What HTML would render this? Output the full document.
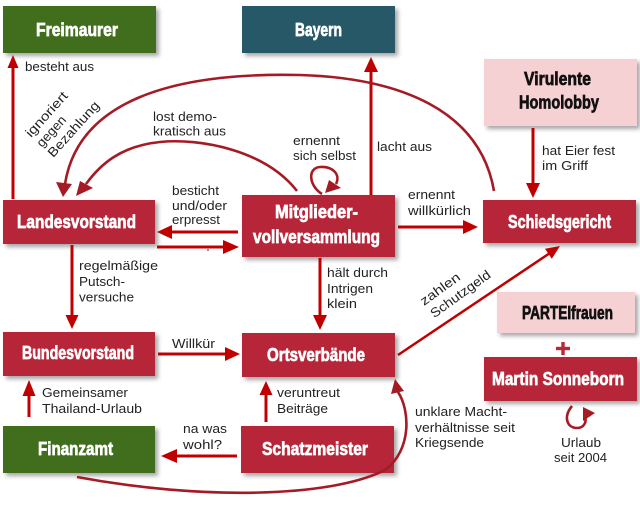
<!DOCTYPE html>
<html><head><meta charset="utf-8"><style>
html,body{margin:0;padding:0;background:#fff;}
svg{display:block;}
.b{font-family:"Liberation Sans",sans-serif;font-weight:bold;font-size:18px;fill:#fff;stroke:#fff;stroke-width:0.7px;}
.bk{fill:#111;stroke:#111;}
.l{font-family:"Liberation Sans",sans-serif;font-size:13px;fill:#222;}
</style></head><body>
<svg width="640" height="509" viewBox="0 0 640 509" xmlns="http://www.w3.org/2000/svg">
<defs>
<filter id="s" x="-10%" y="-10%" width="130%" height="140%">
<feDropShadow dx="3" dy="3" stdDeviation="2" flood-color="#000" flood-opacity="0.35"/>
</filter>
</defs>

<!-- boxes -->
<g filter="url(#s)">
<rect x="3" y="6" width="153" height="47" fill="#416e1f"/>
<rect x="242" y="6" width="153" height="47" fill="#265868"/>
<rect x="484" y="59" width="153" height="67" fill="#f6d1d3"/>
<rect x="3" y="200" width="152" height="44" fill="#b72838"/>
<rect x="242" y="195" width="153" height="62" fill="#b72838"/>
<rect x="483" y="200" width="153" height="43" fill="#b72838"/>
<rect x="3" y="332" width="152" height="44" fill="#b72838"/>
<rect x="242" y="333" width="153" height="44" fill="#b72838"/>
<rect x="3" y="426" width="152" height="47" fill="#416e1f"/>
<rect x="241" y="426" width="153" height="47" fill="#b72838"/>
<rect x="497" y="292" width="138" height="41" fill="#f6d1d3"/>
<rect x="484" y="357" width="153" height="44" fill="#b72838"/>
</g>

<!-- box texts -->
<text class="b" x="36" y="36" textLength="82" lengthAdjust="spacingAndGlyphs">Freimaurer</text>
<text class="b" x="295" y="36" textLength="47" lengthAdjust="spacingAndGlyphs">Bayern</text>
<text class="b bk" x="524" y="85" textLength="67" lengthAdjust="spacingAndGlyphs">Virulente</text>
<text class="b bk" x="519" y="108.5" textLength="80" lengthAdjust="spacingAndGlyphs">Homolobby</text>
<text class="b" x="17" y="228" textLength="119" lengthAdjust="spacingAndGlyphs">Landesvorstand</text>
<text class="b" x="275" y="218" textLength="83" lengthAdjust="spacingAndGlyphs">Mitglieder-</text>
<text class="b" x="253" y="243" textLength="127" lengthAdjust="spacingAndGlyphs">vollversammlung</text>
<text class="b" x="508" y="228" textLength="103" lengthAdjust="spacingAndGlyphs">Schiedsgericht</text>
<text class="b" x="22" y="359" textLength="112" lengthAdjust="spacingAndGlyphs">Bundesvorstand</text>
<text class="b" x="267" y="361" textLength="98" lengthAdjust="spacingAndGlyphs">Ortsverbände</text>
<text class="b" x="38" y="455" textLength="75" lengthAdjust="spacingAndGlyphs">Finanzamt</text>
<text class="b" x="262" y="455" textLength="106" lengthAdjust="spacingAndGlyphs">Schatzmeister</text>
<text class="b bk" x="522" y="319" textLength="91" lengthAdjust="spacingAndGlyphs">PARTEIfrauen</text>
<text class="b" x="492" y="385" textLength="132" lengthAdjust="spacingAndGlyphs">Martin Sonneborn</text>

<!-- plus -->
<rect x="556" y="346.8" width="14" height="3.4" fill="#b72838"/>
<rect x="561.3" y="342" width="3.4" height="13" fill="#b72838"/>

<!-- straight arrows -->
<g stroke="#c00000" stroke-width="3" fill="none">
<line x1="13" y1="199" x2="13" y2="66"/>
<line x1="371" y1="195" x2="371" y2="70"/>
<line x1="533" y1="128" x2="533" y2="185"/>
<line x1="398" y1="227" x2="465" y2="227"/>
<line x1="238" y1="232" x2="170" y2="232"/>
<line x1="157" y1="247" x2="225" y2="247"/>
<line x1="72" y1="245" x2="72" y2="317"/>
<line x1="320" y1="258" x2="320" y2="317"/>
<line x1="158" y1="354" x2="227" y2="354"/>
<line x1="29" y1="417" x2="29" y2="394"/>
<line x1="266" y1="422" x2="266" y2="393"/>
<line x1="237" y1="456" x2="175" y2="456"/>
<line x1="398" y1="355" x2="550" y2="253" stroke-width="2.5"/>
</g>
<g fill="#c00000">
<polygon points="13,55 7.5,68 18.5,68"/>
<polygon points="371,57 364,72 378,72"/>
<polygon points="533,198 526,183 540,183"/>
<polygon points="478,227 463,220 463,234"/>
<polygon points="157,232 172,225 172,239"/>
<polygon points="239,247 223,240 223,254"/>
<polygon points="72,329 65.5,315 78.5,315"/>
<polygon points="320,330 313,315 327,315"/>
<polygon points="240,354 225,347 225,361"/>
<polygon points="29,380 22.5,396 35.5,396"/>
<polygon points="266,381 259.5,395 272.5,395"/>
<polygon points="161,456 177,449 177,463"/>
<polygon points="560,246 551.8,258.8 545,248.8"/>
</g>

<!-- curved arrows -->
<g stroke="#a51b25" stroke-width="2.6" fill="none">
<path d="M494,191 C480,110 400,78 300,75 C170,72 78,102 65,184"/>
<path d="M297,191 C265,150 200,138 160,142 C120,146 100,165 86,184"/>
<path d="M322,194 C309,186 307,168 320,167 C332,166 341,174 336,184"/>
<path d="M77,477 C200,500 330,498 385,470 C412,450 410,410 398,392"/>
<path d="M572,406 C563,417 567,428 577,428 C584,428 587,422 585,416"/>
</g>
<g fill="#a51b25">
<polygon points="56,182 72,184 63,197"/>
<polygon points="80,181 93,188 76,196"/>
<polygon points="325,193 329,180 341,188"/>
<polygon points="395,379 391,394 404,391"/>
<polygon points="583,407 583,421 595,413"/>
</g>
<circle cx="208" cy="250" r="0.9" fill="#444"/>

<!-- labels -->
<text class="l" x="25" y="71" textLength="69" lengthAdjust="spacingAndGlyphs">besteht aus</text>
<g transform="translate(31,138) rotate(-48)">
<text class="l" x="0" y="0" textLength="56" lengthAdjust="spacingAndGlyphs">ignoriert</text>
<text class="l" x="0" y="15" textLength="37" lengthAdjust="spacingAndGlyphs">gegen</text>
<text class="l" x="0" y="30" textLength="70" lengthAdjust="spacingAndGlyphs">Bezahlung</text>
</g>
<text class="l" x="153" y="121" textLength="64" lengthAdjust="spacingAndGlyphs">lost demo-</text>
<text class="l" x="153" y="135.5" textLength="73" lengthAdjust="spacingAndGlyphs">kratisch aus</text>
<text class="l" x="293" y="145" textLength="47" lengthAdjust="spacingAndGlyphs">ernennt</text>
<text class="l" x="293" y="160" textLength="63" lengthAdjust="spacingAndGlyphs">sich selbst</text>
<text class="l" x="377" y="151" textLength="55" lengthAdjust="spacingAndGlyphs">lacht aus</text>
<text class="l" x="542" y="155" textLength="73" lengthAdjust="spacingAndGlyphs">hat Eier fest</text>
<text class="l" x="542" y="170" textLength="46" lengthAdjust="spacingAndGlyphs">im Griff</text>
<text class="l" x="408" y="199" textLength="47" lengthAdjust="spacingAndGlyphs">ernennt</text>
<text class="l" x="408" y="215" textLength="63" lengthAdjust="spacingAndGlyphs">willkürlich</text>
<text class="l" x="172" y="195" textLength="47" lengthAdjust="spacingAndGlyphs">besticht</text>
<text class="l" x="172" y="210" textLength="55" lengthAdjust="spacingAndGlyphs">und/oder</text>
<text class="l" x="172" y="224" textLength="48" lengthAdjust="spacingAndGlyphs">erpresst</text>
<text class="l" x="79" y="270" textLength="79" lengthAdjust="spacingAndGlyphs">regelmäßige</text>
<text class="l" x="79" y="286" textLength="46" lengthAdjust="spacingAndGlyphs">Putsch-</text>
<text class="l" x="79" y="301.5" textLength="55" lengthAdjust="spacingAndGlyphs">versuche</text>
<text class="l" x="327" y="277" textLength="61" lengthAdjust="spacingAndGlyphs">hält durch</text>
<text class="l" x="327" y="293" textLength="46" lengthAdjust="spacingAndGlyphs">Intrigen</text>
<text class="l" x="327" y="308" textLength="30" lengthAdjust="spacingAndGlyphs">klein</text>
<g transform="translate(424,306) rotate(-36)">
<text class="l" x="0" y="0" textLength="46" lengthAdjust="spacingAndGlyphs">zahlen</text>
<text class="l" x="1" y="16" textLength="71" lengthAdjust="spacingAndGlyphs">Schutzgeld</text>
</g>
<text class="l" x="172" y="348" textLength="43" lengthAdjust="spacingAndGlyphs">Willkür</text>
<text class="l" x="42" y="397" textLength="86" lengthAdjust="spacingAndGlyphs">Gemeinsamer</text>
<text class="l" x="42" y="413" textLength="100" lengthAdjust="spacingAndGlyphs">Thailand-Urlaub</text>
<text class="l" x="277" y="397" textLength="63" lengthAdjust="spacingAndGlyphs">veruntreut</text>
<text class="l" x="277" y="413" textLength="51" lengthAdjust="spacingAndGlyphs">Beiträge</text>
<text class="l" x="183" y="433" textLength="44" lengthAdjust="spacingAndGlyphs">na was</text>
<text class="l" x="183" y="449" textLength="39" lengthAdjust="spacingAndGlyphs">wohl?</text>
<text class="l" x="415" y="416" textLength="92" lengthAdjust="spacingAndGlyphs">unklare Macht-</text>
<text class="l" x="415" y="432" textLength="100" lengthAdjust="spacingAndGlyphs">verhältnisse seit</text>
<text class="l" x="415" y="447" textLength="69" lengthAdjust="spacingAndGlyphs">Kriegsende</text>
<text class="l" x="561" y="447" textLength="40" lengthAdjust="spacingAndGlyphs">Urlaub</text>
<text class="l" x="554" y="462" textLength="53" lengthAdjust="spacingAndGlyphs">seit 2004</text>
</svg>
</body></html>
